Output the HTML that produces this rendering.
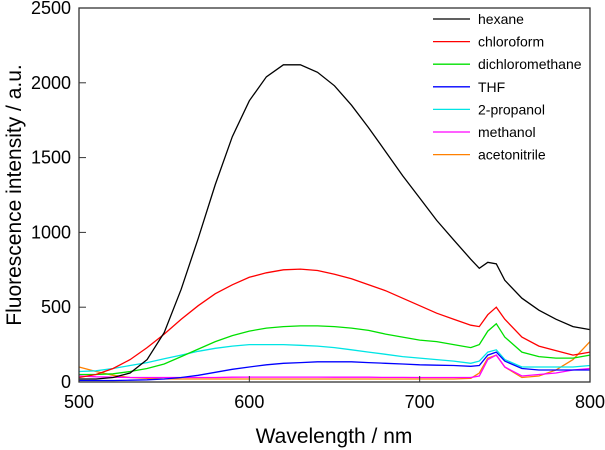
<!DOCTYPE html>
<html><head><meta charset="utf-8"><style>
body{margin:0;background:#fff}
svg{display:block;font-family:"Liberation Sans",Arial,sans-serif}
</style></head><body>
<svg id="chart" width="605" height="450" viewBox="0 0 605 450" xmlns="http://www.w3.org/2000/svg">
<g id="marks"></g>
<rect x="79" y="8" width="511" height="374" fill="none" stroke="#333" stroke-width="1.3"/>
<g id="axes"></g>
<text x="334" y="443" font-size="21" text-anchor="middle">Wavelength / nm</text>
<text transform="translate(21,195) rotate(-90)" font-size="21" text-anchor="middle">Fluorescence intensity / a.u.</text>
<g id="legend"></g>
</svg>
<script>
const wavelengths=[500,510,520,530,540,550,560,570,580,590,600,610,620,630,640,650,660,670,680,690,700,710,720,730,735,740,745,750,760,770,780,790,800];
const hexane=[20,20,30,60,150,330,620,960,1320,1640,1880,2040,2120,2120,2070,1980,1850,1700,1540,1380,1230,1080,950,820,760,800,790,680,560,480,420,370,350];
const chloroform=[30,50,90,150,230,320,420,510,590,650,700,730,750,755,745,720,690,650,610,560,510,460,420,380,370,450,500,420,300,240,210,180,200];
const dichloromethane=[50,50,55,70,90,120,170,220,270,310,340,360,370,375,375,370,360,345,320,300,280,270,250,230,250,340,390,300,200,170,160,160,180];
const thf=[10,10,10,12,15,20,30,45,65,85,100,115,125,130,135,135,135,130,125,120,115,112,110,105,110,180,200,140,90,80,80,80,80];
const propanol=[70,75,90,110,130,155,180,205,225,240,250,250,250,245,240,230,215,200,185,170,160,150,140,125,140,200,215,150,100,100,100,100,110];
const methanol=[40,35,32,30,30,30,30,30,30,32,33,33,33,33,33,32,32,32,31,31,30,30,30,30,40,150,180,100,40,50,60,80,90];
const acetonitrile=[100,70,45,30,25,20,20,20,20,20,20,20,20,20,20,20,20,20,20,20,20,20,20,25,60,160,180,100,30,40,80,150,270];
const seriesNames=["hexane","chloroform","dichloromethane","THF","2-propanol","methanol","acetonitrile"];
const xTicks=[500,600,700,800];
const yTicks=[0,500,1000,1500,2000,2500];
const series=[hexane,chloroform,dichloromethane,thf,propanol,methanol,acetonitrile];
const colors=["#000","#f00","#00e000","#0000ff","#00e5e5","#ff00ff","#ff8000"];
const NS="http://www.w3.org/2000/svg";
const X=v=>79+(v-500)/300*511;
const Y=v=>382-v/2500*374;
const marks=document.getElementById('marks');
for(let s=series.length-1;s>=0;s--){
  const p=document.createElementNS(NS,'polyline');
  
  
  p.setAttribute('points',series[s].map((v,i)=>X(wavelengths[i]).toFixed(1)+','+Y(v).toFixed(1)).join(' '));
  p.setAttribute('fill','none');p.setAttribute('stroke',colors[s]);p.setAttribute('stroke-width','1.3');
  marks.appendChild(p);
}
const axes=document.getElementById('axes');
xTicks.forEach(t=>{
  const l=document.createElementNS(NS,'line');
  
  
  l.setAttribute('x1',X(t));l.setAttribute('x2',X(t));l.setAttribute('y1',382);l.setAttribute('y2',376);l.setAttribute('stroke','#333');
  axes.appendChild(l);
  const tx=document.createElementNS(NS,'text');
  
  
  tx.setAttribute('x',X(t));tx.setAttribute('y',408);tx.setAttribute('font-size','18');tx.setAttribute('text-anchor','middle');
  tx.textContent=t;axes.appendChild(tx);
});
yTicks.forEach(t=>{
  const l=document.createElementNS(NS,'line');
  
  
  l.setAttribute('x1',79);l.setAttribute('x2',86);l.setAttribute('y1',Y(t));l.setAttribute('y2',Y(t));l.setAttribute('stroke','#333');
  axes.appendChild(l);
  const tx=document.createElementNS(NS,'text');
  
  
  tx.setAttribute('x',71);tx.setAttribute('y',Y(t)+6);tx.setAttribute('font-size','18');tx.setAttribute('text-anchor','end');
  tx.textContent=t;axes.appendChild(tx);
});
const legend=document.getElementById('legend');
seriesNames.forEach((n,i)=>{
  const y=19+i*22.6;
  const l=document.createElementNS(NS,'line');
  
  
  l.setAttribute('x1',433);l.setAttribute('x2',470);l.setAttribute('y1',y);l.setAttribute('y2',y);l.setAttribute('stroke',colors[i]);l.setAttribute('stroke-width','1.3');
  legend.appendChild(l);
  const tx=document.createElementNS(NS,'text');
  
  
  tx.setAttribute('x',478);tx.setAttribute('y',y+5);tx.setAttribute('font-size','14');
  tx.textContent=n;legend.appendChild(tx);
});
</script>
</body></html>
